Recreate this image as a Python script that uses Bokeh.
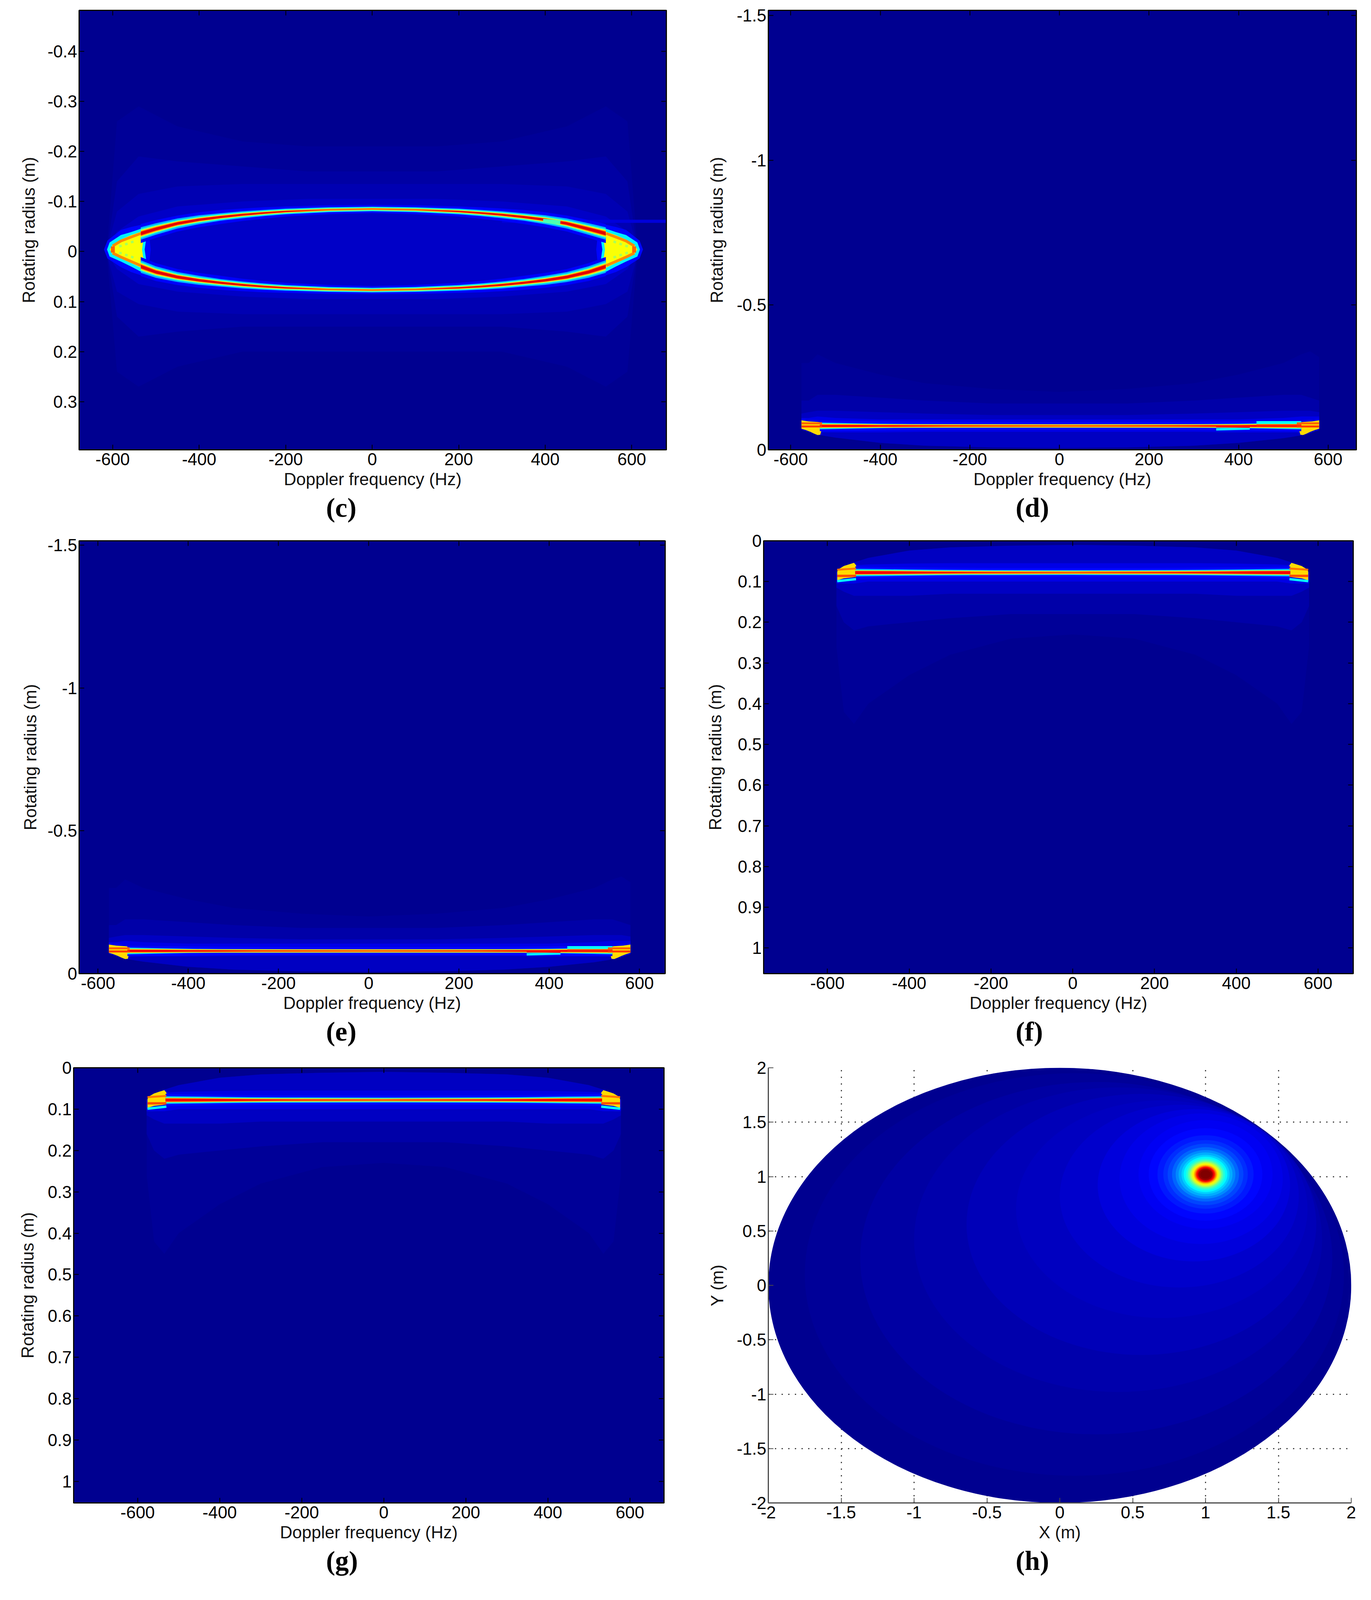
from bokeh.embed import file_html
from bokeh.resources import INLINE
from bokeh.layouts import column, row
from bokeh.models import ColumnDataSource, FixedTicker, LinearAxis, LinearColorMapper, Range1d, Title
from bokeh.plotting import figure

# ---------- tick labels ----------
FREQ_TICKS = [-600, -400, -200, 0, 200, 400, 600]
FREQ_LABELS = ["-600", "-400", "-200", "0", "200", "400", "600"]
C_R_TICKS = [-0.4, -0.3, -0.2, -0.1, 0, 0.1, 0.2, 0.3]
C_R_LABELS = ["-0.4", "-0.3", "-0.2", "-0.1", "0", "0.1", "0.2", "0.3"]
DE_R_TICKS = [-1.5, -1, -0.5, 0]
DE_R_LABELS = ["-1.5", "-1", "-0.5", "0"]
FG_R_TICKS = [0, 0.1, 0.2, 0.3, 0.4, 0.5, 0.6, 0.7, 0.8, 0.9, 1]
FG_R_LABELS = ["0", "0.1", "0.2", "0.3", "0.4", "0.5", "0.6", "0.7", "0.8", "0.9", "1"]
H_TICKS = [-2, -1.5, -1, -0.5, 0, 0.5, 1, 1.5, 2]
H_LABELS = ["-2", "-1.5", "-1", "-0.5", "0", "0.5", "1", "1.5", "2"]

# ---------- axis limits ----------
C_XLIM = (-677.5, 680); C_YLIM = (0.396, -0.4817)
D_XLIM = (-650, 663);   D_YLIM = (0, -1.518)
E_XLIM = (-642, 657);   E_YLIM = (0, -1.515)
F_XLIM = (-756, 686);   F_YLIM = (1.063, 0)
G_XLIM = (-756, 683);   G_YLIM = (1.052, 0)
H_XLIM = (-2, 2);       H_YLIM = (-2, 2)

# ---------- panel (c): ridge of the ellipse, intensity halo and tips ----------
C_RIDGE_F = [-535, -500, -450, -400, -350, -300, -250, -200, -100, 0, 100, 200, 250, 300, 350, 400, 450, 500, 540]
C_RIDGE_UP = [-0.036, -0.045, -0.056, -0.0635, -0.069, -0.0735, -0.077, -0.080, -0.0835, -0.085, -0.0835, -0.080, -0.077, -0.0735, -0.069, -0.0635, -0.056, -0.045, -0.036]
C_RIDGE_LOW = [0.030, 0.041, 0.051, 0.0575, 0.0625, 0.0667, 0.070, 0.0725, 0.0757, 0.077, 0.0757, 0.0725, 0.070, 0.0667, 0.0625, 0.0575, 0.051, 0.041, 0.030]
# half widths of the intensity bands around the ridge, in metres, from the tip to the centre and back
C_BAND_012 = [0.019, 0.018, 0.016, 0.015, 0.014, 0.0125, 0.0115, 0.010, 0.009, 0.008, 0.009, 0.010, 0.0115, 0.0125, 0.014, 0.015, 0.016, 0.018, 0.019]
C_BAND_030 = [0.0125, 0.0115, 0.010, 0.009, 0.0075, 0.007, 0.0063, 0.0057, 0.005, 0.0047, 0.005, 0.0057, 0.0063, 0.007, 0.0075, 0.009, 0.010, 0.0115, 0.0125]
C_BAND_042 = [0.0095, 0.0082, 0.007, 0.0063, 0.0057, 0.005, 0.0047, 0.0044, 0.0038, 0.0035, 0.0038, 0.0044, 0.0047, 0.005, 0.0057, 0.0063, 0.007, 0.0082, 0.0095]
C_BAND_060 = [0.007, 0.0063, 0.005, 0.0044, 0.0038, 0.0035, 0.0031, 0.0028, 0.0025, 0.0022, 0.0025, 0.0028, 0.0031, 0.0035, 0.0038, 0.0044, 0.005, 0.0063, 0.007]
C_BAND_076 = [0.005, 0.0044, 0.0038, 0.0031, 0.0028, 0.0025, 0.0022, 0.0019, 0.0016, 0.0016, 0.0016, 0.0019, 0.0022, 0.0025, 0.0028, 0.0031, 0.0038, 0.0044, 0.005]
C_BAND_090 = [0.0032, 0.0028, 0.0025, 0.0022, 0.0019, 0.0016, 0.0013, 0.001, 0.0, 0.0, 0.0, 0.001, 0.0013, 0.0016, 0.0019, 0.0022, 0.0025, 0.0028, 0.0032]
C_HALO_F = [-612, -590, -540, -450, -300, -150, 0, 150, 300, 450, 540, 590, 612]
C_HALO1_UP = [-0.02, -0.26, -0.29, -0.25, -0.22, -0.21, -0.21, -0.21, -0.22, -0.25, -0.29, -0.26, -0.02]
C_HALO1_LOW = [0.02, 0.24, 0.27, 0.23, 0.20, 0.20, 0.20, 0.20, 0.20, 0.23, 0.27, 0.24, 0.02]
C_HALO2_UP = [-0.01, -0.14, -0.19, -0.18, -0.17, -0.16, -0.16, -0.16, -0.17, -0.18, -0.19, -0.14, -0.01]
C_HALO2_LOW = [0.01, 0.13, 0.17, 0.16, 0.15, 0.15, 0.15, 0.15, 0.15, 0.16, 0.17, 0.13, 0.01]
C_HALO3_UP = [-0.01, -0.08, -0.115, -0.13, -0.135, -0.135, -0.135, -0.135, -0.135, -0.13, -0.115, -0.08, -0.01]
C_HALO3_LOW = [0.01, 0.08, 0.105, 0.12, 0.125, 0.125, 0.125, 0.125, 0.125, 0.12, 0.105, 0.08, 0.01]
C_HALO4_UP = [-0.005, -0.04, -0.07, -0.09, -0.10, -0.105, -0.105, -0.105, -0.10, -0.09, -0.07, -0.04, -0.005]
C_HALO4_LOW = [0.005, 0.035, 0.065, 0.08, 0.09, 0.095, 0.095, 0.095, 0.09, 0.08, 0.065, 0.035, 0.005]
C_STREAK_F = [300, 680]
C_STREAK_R = [-0.0605, -0.0605]
C_BREAK_F = [395, 435]
C_BREAK_R = [-0.0615, -0.0585]
C_TIP1_F = [-620, -612, -581, -557, -525, -505, -505, -515, -512, -515, -505, -505, -525, -557, -581, -612]
C_TIP1_R = [-0.004, -0.022, -0.043, -0.049, -0.055, -0.053, -0.045, -0.03, -0.004, 0.022, 0.04, 0.05, 0.05, 0.041, 0.031, 0.014]
C_TIP2_F = [-613, -607, -581, -557, -533, -520, -522, -526, -522, -520, -533, -557, -581, -607]
C_TIP2_R = [-0.004, -0.018, -0.033, -0.039, -0.046, -0.04, -0.028, -0.004, 0.02, 0.035, 0.041, 0.030, 0.020, 0.01]
C_TIP3_F = [-607, -600, -581, -557, -533, -528, -532, -528, -533, -557, -581, -600]
C_TIP3_R = [-0.004, -0.013, -0.024, -0.033, -0.04, -0.03, -0.004, 0.02, 0.033, 0.023, 0.014, 0.005]
C_FLANK_F = [-600, -581, -557, -535]
C_FLANK_UP = [-0.011, -0.021, -0.029, -0.036]
C_FLANK_LOW = [0.003, 0.011, 0.020, 0.028]
C_CHEVRON_F = [-585, -565, -545]
C_CHEVRON_UP = [-0.010, -0.016, -0.022]
C_CHEVRON_LOW = [0.002, 0.008, 0.014]
C_CORE_F = [-604, -601, -598, -595]
C_CORE_R = [-0.004, -0.004, -0.004, -0.004]

# ---------- panels (d), (e): straight ridge near the bottom ----------
D_RIDGE_F = [-535, -450, -400, -330, -250, 0, 250, 330, 400, 450, 540]
D_RIDGE_R = [-0.0825] * 11
E_RIDGE_R = [-0.0795] * 11
DE_BAND_013 = [0.018, 0.017, 0.016, 0.015, 0.014, 0.013, 0.014, 0.015, 0.016, 0.017, 0.018]
DE_BAND_030 = [0.012, 0.009, 0.0075, 0.0065, 0.0062, 0.006, 0.0062, 0.0065, 0.0075, 0.009, 0.012]
DE_BAND_045 = [0.009, 0.0075, 0.0065, 0.006, 0.0058, 0.0056, 0.0058, 0.006, 0.0065, 0.0075, 0.009]
DE_BAND_066 = [0.007, 0.0065, 0.006, 0.0055, 0.0055, 0.0055, 0.0055, 0.0055, 0.006, 0.0065, 0.007]
DE_BAND_078 = [0.005, 0.0045, 0.004, 0.0035, 0.003, 0.003, 0.003, 0.0035, 0.004, 0.0045, 0.005]
DE_BAND_088 = [0.0035, 0.003, 0.002, 0.0015, 0.001, 0.0, 0.001, 0.0015, 0.002, 0.003, 0.0035]
DE_HALO_F = [-576, -560, -540, -500, -400, -300, -150, 0, 150, 300, 400, 500, 540, 560, 580]
DE_HALO_LOW = [-0.07, -0.062, -0.052, -0.042, -0.024, -0.014, -0.008, -0.006, -0.008, -0.014, -0.024, -0.040, -0.050, -0.058, -0.068]
DE_HALO1_TOP = [-0.30, -0.30, -0.33, -0.30, -0.26, -0.23, -0.21, -0.20, -0.21, -0.23, -0.26, -0.30, -0.33, -0.34, -0.32]
DE_HALO2_TOP = [-0.17, -0.17, -0.19, -0.19, -0.18, -0.17, -0.16, -0.16, -0.16, -0.17, -0.18, -0.19, -0.19, -0.18, -0.17]
DE_HALO3_TOP = [-0.125, -0.13, -0.135, -0.135, -0.13, -0.125, -0.12, -0.12, -0.12, -0.125, -0.13, -0.135, -0.135, -0.135, -0.13]
DE_HALO4_TOP = [-0.11, -0.11, -0.115, -0.11, -0.105, -0.105, -0.105, -0.105, -0.105, -0.105, -0.105, -0.11, -0.115, -0.115, -0.115]
DE_HALO4_LOW = [-0.07, -0.065, -0.06, -0.06, -0.06, -0.062, -0.062, -0.062, -0.062, -0.062, -0.06, -0.06, -0.06, -0.065, -0.07]
DE_TIP_F = [-576, -566, -556, -548, -540, -534, -530, -528, -540, -560, -576]
DE_TIP_R = [-0.073, -0.068, -0.062, -0.056, -0.051, -0.052, -0.075, -0.094, -0.096, -0.098, -0.102]
DE_WAKE_LOW_F = [350, 425]
DE_WAKE_HIGH_F = [440, 540]
DE_STRIP_LEFT_F = [-576, -530]
DE_STRIP_RIGHT_F = [530, 580]

# ---------- panels (f), (g): straight ridge near the top ----------
FG_RIDGE_F = [-532, -450, -400, -330, -250, 0, 250, 330, 400, 450, 532]
F_RIDGE_R = [0.078] * 11
G_RIDGE_R = [0.078] * 11
FG_BAND_013 = [0.015, 0.013, 0.0125, 0.012, 0.0115, 0.011, 0.0115, 0.012, 0.0125, 0.013, 0.015]
FG_BAND_030 = [0.0095, 0.0085, 0.0078, 0.007, 0.0065, 0.006, 0.0065, 0.007, 0.0078, 0.0085, 0.0095]
FG_BAND_045 = [0.0068, 0.0062, 0.0058, 0.0052, 0.0048, 0.0043, 0.0048, 0.0052, 0.0058, 0.0062, 0.0068]
FG_BAND_066 = [0.0052, 0.0048, 0.0045, 0.0042, 0.0038, 0.0035, 0.0038, 0.0042, 0.0045, 0.0048, 0.0052]
FG_BAND_078 = [0.0042, 0.0038, 0.0034, 0.003, 0.0026, 0.0023, 0.0026, 0.003, 0.0034, 0.0038, 0.0042]
FG_BAND_088 = [0.0035, 0.003, 0.0025, 0.0015, 0.0008, 0.0, 0.0008, 0.0015, 0.0025, 0.003, 0.0035]
FG_HALO_F = [-578, -560, -535, -500, -400, -300, -150, 0, 150, 300, 400, 500, 535, 560, 578]
FG_HALO_NEAR = [0.078, 0.065, 0.053, 0.042, 0.024, 0.016, 0.012, 0.010, 0.012, 0.016, 0.024, 0.042, 0.053, 0.065, 0.078]
FG_HALO1_FAR = [0.26, 0.42, 0.45, 0.40, 0.33, 0.28, 0.24, 0.23, 0.24, 0.28, 0.33, 0.40, 0.45, 0.42, 0.26]
FG_HALO2_FAR = [0.16, 0.20, 0.22, 0.21, 0.20, 0.19, 0.18, 0.18, 0.18, 0.19, 0.20, 0.21, 0.22, 0.20, 0.16]
FG_HALO3_FAR = [0.115, 0.125, 0.135, 0.135, 0.135, 0.13, 0.13, 0.13, 0.13, 0.13, 0.135, 0.135, 0.135, 0.125, 0.115]
FG_HALO4_FAR = [0.105, 0.105, 0.105, 0.10, 0.10, 0.10, 0.10, 0.10, 0.10, 0.10, 0.10, 0.10, 0.105, 0.105, 0.105]
FG_HALO4_NEAR = [0.078, 0.065, 0.06, 0.058, 0.056, 0.055, 0.055, 0.055, 0.055, 0.055, 0.056, 0.058, 0.06, 0.065, 0.078]
FG_TIP_F = [-576, -570, -560, -548, -535, -530, -528, -528, -540, -560, -576]
FG_TIP_R = [0.075, 0.068, 0.062, 0.058, 0.054, 0.06, 0.075, 0.088, 0.090, 0.092, 0.097]
FG_STRIP_F = [-576, -530]
FG_STRIP1_R = [0.086, 0.086]
FG_STRIP2_R = [0.071, 0.068]
FG_STRIP3_R = [0.099, 0.094]

# ---------- panel (h): nested contours around the focused scatterer ----------
H_CX = [0, 0.10, 0.25, 0.40, 0.56, 0.70, 0.82, 0.92, 0.97, 1.00, 1.00, 1.00, 1.00, 1.00, 1.00, 1.00, 1.00, 1.00, 1.00, 1.00, 1.00, 1.00, 1.00, 1.00, 1.00, 1.00, 1.00, 1.00, 1.00, 1.00]
H_CY = [0, 0.10, 0.25, 0.42, 0.56, 0.70, 0.82, 0.92, 0.98, 1.02, 1.02, 1.02, 1.02, 1.02, 1.02, 1.02, 1.02, 1.02, 1.02, 1.02, 1.02, 1.02, 1.02, 1.02, 1.02, 1.02, 1.02, 1.02, 1.02, 1.02]
H_RX = [2.0, 1.85, 1.62, 1.40, 1.20, 1.00, 0.82, 0.66, 0.56, 0.46, 0.39, 0.33, 0.29, 0.26, 0.23, 0.205, 0.185, 0.165, 0.15, 0.135, 0.122, 0.11, 0.10, 0.09, 0.08, 0.072, 0.064, 0.056, 0.048, 0.036]
H_RY = [2.0, 1.85, 1.62, 1.40, 1.20, 1.00, 0.84, 0.70, 0.60, 0.50, 0.425, 0.36, 0.316, 0.283, 0.25, 0.223, 0.202, 0.18, 0.163, 0.147, 0.133, 0.12, 0.109, 0.098, 0.087, 0.078, 0.07, 0.061, 0.052, 0.039]
H_LEVEL = [0.016, 0.026, 0.036, 0.046, 0.056, 0.066, 0.078, 0.09, 0.105, 0.115, 0.13, 0.15, 0.17, 0.195, 0.225, 0.26, 0.295, 0.33, 0.37, 0.41, 0.46, 0.52, 0.58, 0.64, 0.70, 0.78, 0.86, 0.92, 0.98, 1.0]

# ---------- captions ----------
CAPTIONS = ["(c)", "(d)", "(e)", "(f)", "(g)", "(h)"]
X_LABEL = "Doppler frequency (Hz)"
Y_LABEL = "Rotating radius (m)"

SY = 0.815


def py(v):
    return round(8 + (v - 8) * SY)


def jet(v):
    r = max(0, min(1, min(4 * v - 1.5, -4 * v + 4.5)))
    g = max(0, min(1, min(4 * v - 0.5, -4 * v + 3.5)))
    b = max(0, min(1, min(4 * v + 0.5, -4 * v + 2.5)))
    return "#%02x%02x%02x" % (round(r * 255), round(g * 255), round(b * 255))


BG = jet(0.016)
SANS = "Liberation Sans"
TICK_PT = "44px"
LABEL_PT = "44px"


def panel(cell, frame, xlim, ylim, xticks, xlabels, yticks, ylabels, xlab, ylab, caption, cap_x, bg=BG, boxed=True, yl_standoff=24):
    cx0, cy0, cx1, cy1 = cell
    fx0, fy0, fx1, fy1 = frame
    cy0, cy1, fy0, fy1 = py(cy0), py(cy1), py(fy0), py(fy1)
    p = figure(width=cx1 - cx0, height=cy1 - cy0, x_range=Range1d(*xlim), y_range=Range1d(*ylim),
               output_backend="svg", toolbar_location=None, x_axis_location=None, y_axis_location=None,
               min_border_left=fx0 - cx0, min_border_right=cx1 - fx1, min_border_top=fy0 - cy0,
               min_border_bottom=cy1 - fy1, background_fill_color=bg, border_fill_color="white")
    p.grid.visible = False
    col = "black" if boxed else "#4a4a4a"
    xt, yt = FixedTicker(ticks=xticks), FixedTicker(ticks=yticks)
    common = dict(axis_line_color=col, axis_line_width=3, major_tick_line_color=col, major_tick_line_width=2,
                  major_tick_in=13, major_tick_out=0, minor_tick_line_color=None,
                  major_label_text_font=SANS, major_label_text_font_size=TICK_PT, major_label_text_color="black",
                  axis_label_text_font=SANS, axis_label_text_font_size=LABEL_PT, axis_label_text_font_style="normal",
                  axis_label_text_color="#111111")
    p.add_layout(LinearAxis(ticker=xt, axis_label=xlab, major_label_overrides=dict(zip(xticks, xlabels)),
                            major_label_standoff=8, axis_label_standoff=8, **common), "below")
    p.add_layout(LinearAxis(ticker=yt, axis_label=ylab, major_label_overrides=dict(zip(yticks, ylabels)),
                            major_label_standoff=5, axis_label_standoff=yl_standoff, **common), "left")
    if boxed:
        for side, tk, tks in (("above", xt, xticks), ("right", yt, yticks)):
            p.add_layout(LinearAxis(ticker=tk, axis_line_color=col, axis_line_width=3, major_tick_line_color=col,
                                    major_tick_line_width=2, major_tick_in=13, major_tick_out=0,
                                    minor_tick_line_color=None, major_label_overrides={t: "" for t in tks},
                                    major_label_text_font_size="0px", major_label_standoff=0), side)
    p.outline_line_color = "black" if boxed else None
    p.outline_line_width = 3
    p.add_layout(Title(text=caption, align="left", offset=cap_x - fx0 - 38, standoff=10,
                       text_font="Liberation Serif", text_font_style="bold", text_font_size="70px",
                       text_color="black"), "below")
    return p


def area(p, f, lo, hi, level):
    p.varea(x=f, y1=lo, y2=hi, fill_color=jet(level))


def bands(p, f, r, layers):
    for level, half in sorted(layers, key=lambda t: t[0]):
        area(p, f, [a - b for a, b in zip(r, half)], [a + b for a, b in zip(r, half)], level)


def mirrored(f, shift):
    return [shift - v for v in f]


# ---------- (c) ----------
pc = panel((8, 8, 1800, 1672), (210, 29, 1713, 1422), C_XLIM, C_YLIM, FREQ_TICKS, FREQ_LABELS, C_R_TICKS, C_R_LABELS,
           X_LABEL, Y_LABEL, CAPTIONS[0], 880, yl_standoff=21)
for lo, hi, lv in ((C_HALO1_UP, C_HALO1_LOW, 0.024), (C_HALO2_UP, C_HALO2_LOW, 0.036), (C_HALO3_UP, C_HALO3_LOW, 0.05), (C_HALO4_UP, C_HALO4_LOW, 0.07)):
    area(pc, C_HALO_F, lo, hi, lv)
pc.line(C_STREAK_F, C_STREAK_R, line_color=jet(0.09), line_width=8)
C_LAYERS = [(0.12, C_BAND_012), (0.30, C_BAND_030), (0.42, C_BAND_042), (0.60, C_BAND_060), (0.76, C_BAND_076), (0.90, C_BAND_090)]
for ft, rt, lv in ((C_TIP1_F, C_TIP1_R, 0.13), (C_TIP2_F, C_TIP2_R, 0.36), (C_TIP3_F, C_TIP3_R, 0.62)):
    pc.patch(ft, rt, fill_color=jet(lv), line_color=None)
    pc.patch(mirrored(ft, 6), rt, fill_color=jet(lv), line_color=None)
bands(pc, C_RIDGE_F, C_RIDGE_UP, C_LAYERS)
bands(pc, C_RIDGE_F, C_RIDGE_LOW, C_LAYERS)
pc.line(C_BREAK_F, C_BREAK_R, line_color=jet(0.45), line_width=10)
for fr in (C_FLANK_UP, C_FLANK_LOW):
    for fs in (C_FLANK_F, mirrored(C_FLANK_F, 6)):
        pc.line(fs, fr, line_color=jet(0.74), line_width=7)
for fr in (C_CHEVRON_UP, C_CHEVRON_LOW):
    for fs in (C_CHEVRON_F, mirrored(C_CHEVRON_F, 6)):
        pc.line(fs, fr, line_color=jet(0.54), line_width=6, line_dash=[7, 9])
for fs in (C_CORE_F, mirrored(C_CORE_F, 6)):
    pc.line(fs, C_CORE_R, line_color=jet(0.78), line_width=16)


def band_de(p, ridge_r):
    for top, low, lv in ((DE_HALO1_TOP, DE_HALO_LOW, 0.024), (DE_HALO2_TOP, DE_HALO_LOW, 0.04), (DE_HALO3_TOP, DE_HALO_LOW, 0.065), (DE_HALO4_TOP, DE_HALO4_LOW, 0.10)):
        area(p, DE_HALO_F, low, top, lv)
    p.patch(DE_TIP_F, DE_TIP_R, fill_color=jet(0.66), line_color=None)
    p.patch(mirrored(DE_TIP_F, 4), DE_TIP_R, fill_color=jet(0.66), line_color=None)
    bands(p, D_RIDGE_F, ridge_r, [(0.13, DE_BAND_013), (0.30, DE_BAND_030), (0.45, DE_BAND_045), (0.66, DE_BAND_066), (0.78, DE_BAND_078), (0.88, DE_BAND_088)])
    base = ridge_r[0]
    p.line(DE_WAKE_LOW_F, [base + 0.012, base + 0.009], line_color=jet(0.36), line_width=6)
    p.line(DE_WAKE_LOW_F, [base + 0.002, base + 0.004], line_color=jet(0.88), line_width=4)
    p.line(DE_WAKE_HIGH_F, [base - 0.012, base - 0.012], line_color=jet(0.38), line_width=7)
    p.line(DE_WAKE_HIGH_F, [base - 0.002, base - 0.002], line_color=jet(0.84), line_width=5)
    for fs in (DE_STRIP_LEFT_F, DE_STRIP_RIGHT_F):
        p.line(fs, [base - 0.009, base - 0.009], line_color=jet(0.78), line_width=5)
        p.line(fs, [base + 0.002, base + 0.002], line_color=jet(0.82), line_width=5)


pd_ = panel((1800, 8, 3500, 1672), (1974, 40, 3479, 1420), D_XLIM, D_YLIM, FREQ_TICKS, FREQ_LABELS, DE_R_TICKS, DE_R_LABELS,
            X_LABEL, Y_LABEL, CAPTIONS[1], 2645)
band_de(pd_, D_RIDGE_R)
pe = panel((8, 1672, 1800, 3325), (210, 1694, 1710, 3066), E_XLIM, E_YLIM, FREQ_TICKS, FREQ_LABELS, DE_R_TICKS, DE_R_LABELS,
           X_LABEL, Y_LABEL, CAPTIONS[2], 880, yl_standoff=17)
band_de(pe, E_RIDGE_R)


def band_fg(p, ridge_r):
    for far, near, lv in ((FG_HALO1_FAR, FG_HALO_NEAR, 0.024), (FG_HALO2_FAR, FG_HALO_NEAR, 0.04), (FG_HALO3_FAR, FG_HALO_NEAR, 0.065), (FG_HALO4_FAR, FG_HALO4_NEAR, 0.10)):
        area(p, FG_HALO_F, near, far, lv)
    for fs in (FG_TIP_F, mirrored(FG_TIP_F, 0)):
        p.patch(fs, FG_TIP_R, fill_color=jet(0.66), line_color=None)
    bands(p, FG_RIDGE_F, ridge_r, [(0.13, FG_BAND_013), (0.30, FG_BAND_030), (0.45, FG_BAND_045), (0.66, FG_BAND_066), (0.78, FG_BAND_078), (0.88, FG_BAND_088)])
    for sgn in (1, -1):
        fs = [sgn * v for v in FG_STRIP_F]
        p.line(fs, FG_STRIP3_R, line_color=jet(0.38), line_width=6)
        p.line(fs, FG_STRIP1_R, line_color=jet(0.80), line_width=6)
        p.line(fs, FG_STRIP2_R, line_color=jet(0.76), line_width=5)


pf = panel((1800, 1672, 3500, 3325), (1962, 1706, 3471, 3072), F_XLIM, F_YLIM, FREQ_TICKS, FREQ_LABELS, FG_R_TICKS, FG_R_LABELS,
           X_LABEL, Y_LABEL, CAPTIONS[3], 2645, yl_standoff=30)
band_fg(pf, F_RIDGE_R)
pg = panel((8, 3325, 1800, 5002), (196, 3361, 1707, 4728), G_XLIM, G_YLIM, FREQ_TICKS, FREQ_LABELS, FG_R_TICKS, FG_R_LABELS,
           X_LABEL, Y_LABEL, CAPTIONS[4], 880, yl_standoff=24)
band_fg(pg, G_RIDGE_R)

# ---------- (h) ----------
ph = panel((1800, 3325, 3500, 5002), (1974, 3361, 3466, 4730), H_XLIM, H_YLIM, H_TICKS, H_LABELS, H_TICKS, H_LABELS,
           "X (m)", "Y (m)", CAPTIONS[5], 2645, bg="white", boxed=False, yl_standoff=23)
ph.xgrid.ticker = FixedTicker(ticks=H_TICKS)
ph.ygrid.ticker = FixedTicker(ticks=H_TICKS)
for g in (ph.xgrid, ph.ygrid):
    g.visible = True
    g.grid_line_color = "#333333"
    g.grid_line_dash = [3, 14]
    g.grid_line_width = 3
mapper = LinearColorMapper(palette=[jet(i / 255) for i in range(256)], low=0, high=1)
src = ColumnDataSource(dict(x=H_CX, y=H_CY, w=[2 * v for v in H_RX], h=[2 * v for v in H_RY], level=H_LEVEL))
ph.ellipse(x="x", y="y", width="w", height="h", source=src, line_color=None,
           fill_color={"field": "level", "transform": mapper})

page = column(row(pc, pd_, spacing=0), row(pe, pf, spacing=0), row(pg, ph, spacing=0), spacing=0)
open("out.html", "w").write(file_html(page, INLINE))
